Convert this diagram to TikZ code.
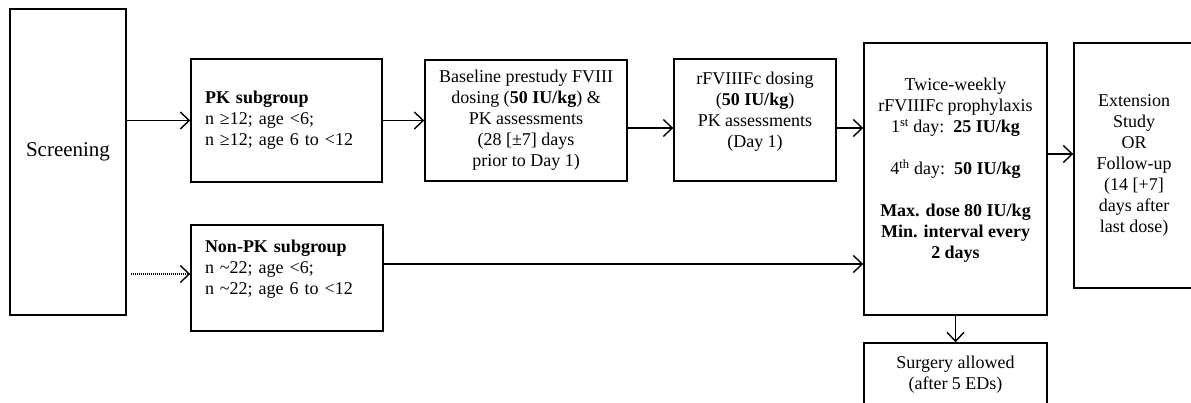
\documentclass[tikz,border=0pt]{standalone}
\usepackage{fontspec}
\setmainfont{Liberation Serif}
\usepackage{tikz}
\usetikzlibrary{arrows.meta,positioning}

\begin{document}
\begin{tikzpicture}[
  x=1pt,y=-1pt,
  font=\fontsize{18}{21}\selectfont,
  box/.style={draw,line width=1.4pt,inner sep=4pt,align=center},
  subbox/.style={box,align=left,inner xsep=14pt},
  arrow/.style={-{Straight Barb[length=9pt,width=17pt,line width=1.4pt]},line width=1.4pt},
  dotarrow/.style={arrow,dash pattern=on 1pt off 1pt}
]
  \useasboundingbox (0,0) rectangle (1191,403);
  % screening and subgroups
  \node[box,minimum width=116pt,minimum height=306pt,font=\fontsize{21}{25}\selectfont] (screen) at (68,162) {Screening\\ \mbox{}};
  \node[subbox,text width=163pt,minimum height=123pt] (pk) at (286.5,120.5) {\textbf{PK subgroup}\\ n ≥12; age <6;\\ n ≥12; age 6 to <12};
  \node[subbox,text width=164pt,minimum height=106pt] (nonpk) at (287,278) {\textbf{Non-PK subgroup}\\ n \textasciitilde22; age <6;\\ n \textasciitilde22; age 6 to <12\\ \mbox{}};
  % PK assessments
  \node[box,minimum width=202pt,minimum height=121pt] (base) at (526,120.5) {Baseline prestudy FVIII\\ dosing (\textbf{50 IU/kg}) \&\\ PK assessments\\ (28 [±7] days\\ prior to Day 1)};
  \node[box,minimum width=162pt,minimum height=122pt] (dose) at (755,120) {rFVIIIFc dosing\\ (\textbf{50 IU/kg})\\ PK assessments\\ (Day 1)\\ \mbox{}};
  % treatment
  \node[box,minimum width=183pt,minimum height=272pt] (twice) at (955.5,179) {Twice-weekly\\ rFVIIIFc prophylaxis\\ 1\textsuperscript{st} day:\ \ \textbf{25 IU/kg}\\[21pt] 4\textsuperscript{th} day:\ \ \textbf{50 IU/kg}\\[21pt] \textbf{Max. dose 80 IU/kg}\\ \textbf{Min. interval every}\\ \textbf{2 days}\\ \mbox{}};
  \node[box,minimum width=120pt,minimum height=245pt] (ext) at (1134,165.5) {Extension\\ Study\\ OR\\ Follow-up\\ (14 [+7]\\ days after\\ last dose)};
  \node[box,minimum width=183pt,minimum height=80pt] (surg) at (955.5,383) {Surgery allowed\\ (after 5 EDs)\\ \mbox{}};
  % arrow end points
  \coordinate (dosein) at ([yshift=-8pt]dose.west);
  \coordinate (doseout) at ([yshift=-8pt]dose.east);
  \coordinate (nonpkout) at ([yshift=14pt]nonpk.east);
  \coordinate (extin) at ([yshift=11.5pt]ext.west);
  \draw[arrow] (screen.east |- pk.west) -- (pk.west);
  \draw[dotarrow] ([xshift=4pt,yshift=4pt]screen.east |- nonpk.west) -- ([yshift=4pt]nonpk.west);
  \draw[arrow] (pk.east) -- (base.west);
  \draw[arrow] (base.east |- dosein) -- (dosein);
  \draw[arrow] (doseout) -- (twice.west |- doseout);
  \draw[arrow] (nonpkout) -- (twice.west |- nonpkout);
  \draw[arrow] (twice.east |- extin) -- (extin);
  \draw[arrow] (twice.south) -- (surg.north);
\end{tikzpicture}
\end{document}
